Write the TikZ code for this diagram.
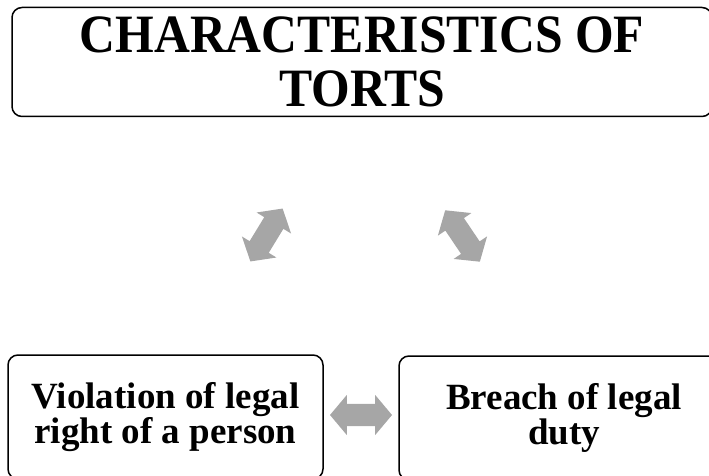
\documentclass[tikz,border=0pt]{standalone}
\usepackage{fontspec}
\setmainfont{Liberation Serif}
\newfontfamily\headfont[FakeStretch=0.92]{Liberation Serif}
\usetikzlibrary{shapes.arrows}
\definecolor{arrowgray}{RGB}{166,166,166}
\tikzset{
  box/.style={draw=black, line width=1.5pt, rounded corners=10pt, align=center, inner sep=0pt},
  fatarrow/.style={double arrow, fill=arrowgray, draw=none, inner xsep=0pt, inner ysep=11pt, minimum height=62pt, double arrow head extend=9pt, double arrow tip angle=100}
}
\begin{document}
\begin{tikzpicture}[x=1pt,y=-1pt]
\useasboundingbox (0,0) rectangle (709,476);
\clip (0,0) rectangle (709,476);
\node[box, minimum width=700pt, minimum height=109pt, font=\headfont\bfseries\fontsize{54}{54}\selectfont] (title) at (362,62) {CHARACTERISTICS OF\\TORTS};
\node[box, minimum width=315pt, minimum height=124pt, font=\bfseries\fontsize{37}{35}\selectfont] (violation) at (165.5,417) {Violation of legal\\right of a person};
\node[box, minimum width=330pt, minimum height=124pt, font=\bfseries\fontsize{37}{35}\selectfont] (breach) at (564,418) {Breach of legal\\duty};
\node[fatarrow, rotate=58.6] (leftarrow) at (266.5,235) {};
\node[fatarrow, rotate=-56] (rightarrow) at (462.5,236) {};
\node[fatarrow] (midarrow) at (361,415) {};
\end{tikzpicture}
\end{document}
